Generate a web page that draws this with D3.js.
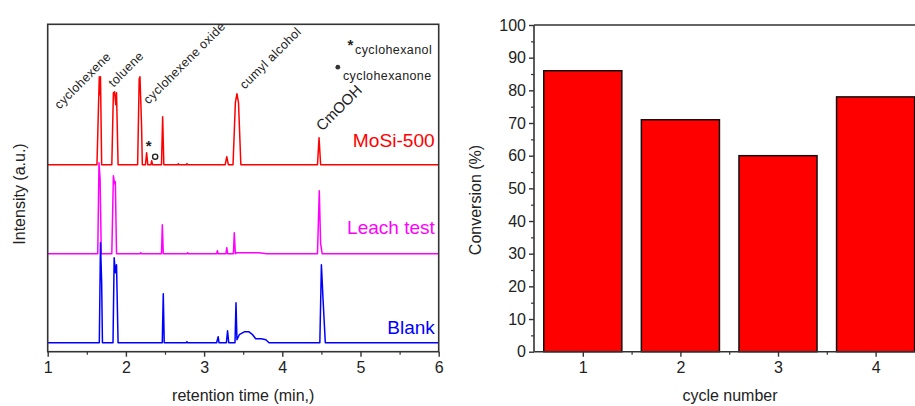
<!DOCTYPE html>
<html><head><meta charset="utf-8">
<script src="https://cdn.jsdelivr.net/npm/d3@7"></script>
<style>
body{margin:0;background:#fff;}
svg{display:block;font-family:"Liberation Sans",Arial,sans-serif;}
</style></head>
<body><svg id="c" width="915" height="406"></svg>
<script>
// ---------- DATA ----------
// Chromatograms: [retention time (min), intensity above own baseline (a.u.)]
const mosi500 = [[1.0,0],[1.3,0],[1.5,0],[1.63,0],[1.65,60],[1.66,88],[1.67,70],[1.675,88],[1.69,0],[1.82,0],[1.84,72],[1.855,73],[1.87,60],[1.88,72],[1.90,0],
  [2.15,0],[2.17,86],[2.18,88],[2.2,40],[2.21,0],[2.25,0],[2.265,12],[2.28,0],[2.32,0],[2.33,4],[2.34,0],[2.455,0],[2.47,48],[2.485,0],
  [2.66,0],[2.67,1],[2.68,0],[2.77,0],[2.78,1],[2.79,0],[3.27,0],[3.29,8],[3.31,0],[3.37,0],[3.40,62],[3.42,71],[3.44,62],[3.47,0],
  [4.45,0],[4.47,27],[4.49,0],[5.6,0],[6.0,0]];
const leachTest = [[1.0,0],[1.3,0],[1.5,0],[1.64,0],[1.656,91],[1.67,75],[1.685,0],[1.82,0],[1.84,78],[1.855,70],[1.865,72],[1.88,0],
  [2.18,0],[2.19,1],[2.2,0],[2.455,0],[2.466,29],[2.478,0],[2.78,0],[2.79,1],[2.8,0],[3.16,0],[3.17,3],[3.18,0],[3.28,0],[3.29,6],[3.30,0],
  [3.375,0],[3.386,21],[3.40,0],[3.42,1],[3.7,1],[3.8,0],[4.45,0],[4.473,63],[4.49,10],[4.51,0],[5.6,0],[6.0,0]];
const blank = [[1.0,0],[1.3,0],[1.5,0],[1.66,0],[1.675,100],[1.69,60],[1.70,0],[1.835,0],[1.85,85],[1.865,70],[1.88,78],[1.90,0],
  [2.1,0],[2.465,0],[2.478,49],[2.49,0],[2.77,0],[2.78,1],[2.79,0],[3.16,0],[3.18,6],[3.19,0],[3.285,0],[3.30,12],[3.315,0],
  [3.395,0],[3.408,40],[3.42,3],[3.45,8],[3.52,11],[3.57,11],[3.62,8],[3.66,4],[3.73,4],[3.79,3],[3.83,0],
  [4.48,0],[4.50,78],[4.52,45],[4.55,0],[5.6,0],[6.0,0]];
const seriesNames = ["MoSi-500","Leach test","Blank"];
const seriesOffsets = [187, 98, 9];          // stacking offsets (a.u.)
const xTicksLeft = [1,2,3,4,5,6];

// Peak annotations: [label, time, level (a.u.)]
const peakLabels = [["cyclohexene",1.15,242],["toluene",1.84,264],["cyclohexene oxide",2.29,247],["cumyl alcohol",3.52,262],["CmOOH",4.51,220]];

// Conversion per cycle
const cycles = [1,2,3,4];
const conversion = [86,71,60,78];
const yTicksRight = [0,10,20,30,40,50,60,70,80,90,100];

// ---------- DRAW ----------
const svg = d3.select("#c");
const axisCol = "#333";

// ===== Left panel =====
const L = {x0:47.7, x1:438.7, y0:24.3, y1:351.7};
const xL = d3.scaleLinear().domain([1,6]).range([L.x0,L.x1]);
const yL = d3.scaleLinear().domain([0,327.4]).range([L.y1,L.y0]);
const gL = svg.append("g");

const colors = ["#ff0000","#ff00ff","#0000ff"];
[mosi500,leachTest,blank].forEach((s,i)=>{
  const line = d3.line().x(d=>xL(d[0])).y(d=>yL(d[1]+seriesOffsets[i]));
  gL.append("path").datum(s).attr("d",line).attr("fill","none")
    .attr("stroke",colors[i]).attr("stroke-width",1.5).attr("stroke-linejoin","round");
});

// frame
gL.append("rect").attr("x",L.x0).attr("y",L.y0).attr("width",L.x1-L.x0).attr("height",L.y1-L.y0)
  .attr("fill","none").attr("stroke",axisCol).attr("stroke-width",1.6);
// bottom axis
const axB = gL.append("g").attr("transform",`translate(0,${L.y1})`)
  .call(d3.axisBottom(xL).tickValues(xTicksLeft).tickSize(5).tickPadding(5).tickFormat(d3.format("d")));
axB.select(".domain").remove();
axB.selectAll("line").attr("stroke",axisCol).attr("stroke-width",1.4);
axB.selectAll("text").attr("font-size",16).attr("fill","#222").attr("font-family","Liberation Sans, Arial");
gL.append("g").attr("transform",`translate(0,${L.y1})`)
  .call(d3.axisBottom(xL).tickValues(d3.range(1.5,6,1)).tickSize(3).tickFormat(""))
  .call(g=>{g.select(".domain").remove();g.selectAll("line").attr("stroke",axisCol).attr("stroke-width",1.2);});

gL.append("text").attr("x",(L.x0+L.x1)/2).attr("y",401).attr("text-anchor","middle")
  .attr("font-size",16).attr("fill","#222").text("retention time (min,)");
gL.append("text").attr("transform",`translate(25,${(L.y0+L.y1)/2+6}) rotate(-90)`).attr("text-anchor","middle")
  .attr("font-size",16).attr("fill","#222").text("Intensity (a.u.)");

// series names
gL.append("text").attr("x",xL(5.95)).attr("y",yL(seriesOffsets[0]+18)).attr("text-anchor","end")
  .attr("font-size",19).attr("fill",colors[0]).attr("textLength",82).attr("lengthAdjust","spacingAndGlyphs").text(seriesNames[0]);
gL.append("text").attr("x",xL(5.95)).attr("y",yL(seriesOffsets[1]+20)).attr("text-anchor","end")
  .attr("font-size",19).attr("fill",colors[1]).text(seriesNames[1]);
gL.append("text").attr("x",xL(5.95)).attr("y",yL(seriesOffsets[2]+9)).attr("text-anchor","end")
  .attr("font-size",19).attr("fill",colors[2]).text(seriesNames[2]);

// peak labels
peakLabels.forEach(p=>{
  gL.append("text").attr("transform",`translate(${xL(p[1])},${yL(p[2])}) rotate(-45)`)
    .attr("font-size",p[0]==="CmOOH"?15:12.5).attr("letter-spacing",p[0]==="CmOOH"?0:0.4)
    .attr("fill","#222").text(p[0]);
});
// markers on small peaks
gL.append("text").attr("x",xL(2.29)).attr("y",yL(201)).attr("text-anchor","middle").attr("font-size",15).attr("font-weight","bold").attr("fill","#222").text("*");
gL.append("circle").attr("cx",xL(2.374)).attr("cy",yL(195)).attr("r",2.6).attr("fill","none").attr("stroke","#222").attr("stroke-width",1.4);
// legend of markers
gL.append("text").attr("x",xL(4.87)).attr("y",yL(302)).attr("text-anchor","middle").attr("font-size",15).attr("font-weight","bold").attr("fill","#222").text("*");
gL.append("text").attr("x",xL(4.93)).attr("y",yL(298)).attr("font-size",12.5).attr("letter-spacing",0.4).attr("fill","#222").text("cyclohexanol");
gL.append("circle").attr("cx",xL(4.71)).attr("cy",yL(284.5)).attr("r",2.4).attr("fill","#333");
gL.append("text").attr("x",xL(4.776)).attr("y",yL(272)).attr("font-size",12.5).attr("letter-spacing",0.4).attr("fill","#222").text("cyclohexanone");

// ===== Right panel =====
const R = {x0:534, y0:25, y1:351.7, step:97.6};
const xR = d3.scaleLinear().domain([0.5,5.5]).range([R.x0,R.x0+5*R.step]);
const yR = d3.scaleLinear().domain([0,100]).range([R.y1,R.y0]);
const gR = svg.append("g");
const bw = 0.8;
gR.selectAll("rect.bar").data(cycles).join("rect").attr("class","bar")
  .attr("x",d=>xR(d-bw/2)).attr("width",d=>xR(d+bw/2)-xR(d-bw/2))
  .attr("y",(d,i)=>yR(conversion[i])).attr("height",(d,i)=>yR(0)-yR(conversion[i]))
  .attr("fill","#ff0000").attr("stroke","#111").attr("stroke-width",1.5);

// frame lines
gR.append("line").attr("x1",R.x0).attr("x2",940).attr("y1",R.y0).attr("y2",R.y0).attr("stroke",axisCol).attr("stroke-width",1.6);
gR.append("line").attr("x1",R.x0).attr("x2",940).attr("y1",R.y1).attr("y2",R.y1).attr("stroke",axisCol).attr("stroke-width",1.6);
gR.append("line").attr("x1",R.x0).attr("x2",R.x0).attr("y1",R.y0).attr("y2",R.y1).attr("stroke",axisCol).attr("stroke-width",1.6);

const ayR = gR.append("g").attr("transform",`translate(${R.x0},0)`)
  .call(d3.axisLeft(yR).tickValues(yTicksRight).tickSize(5).tickPadding(3));
ayR.select(".domain").remove();
ayR.selectAll("line").attr("stroke",axisCol).attr("stroke-width",1.4);
ayR.selectAll("text").attr("font-size",16).attr("fill","#222").attr("font-family","Liberation Sans, Arial");
gR.append("g").attr("transform",`translate(${R.x0},0)`)
  .call(d3.axisLeft(yR).tickValues(d3.range(5,100,10)).tickSize(3).tickFormat(""))
  .call(g=>{g.select(".domain").remove();g.selectAll("line").attr("stroke",axisCol).attr("stroke-width",1.2);});

const axR = gR.append("g").attr("transform",`translate(0,${R.y1})`)
  .call(d3.axisBottom(xR).tickValues(cycles).tickSize(5).tickPadding(5).tickFormat(d3.format("d")));
axR.select(".domain").remove();
axR.selectAll("line").attr("stroke",axisCol).attr("stroke-width",1.4);
axR.selectAll("text").attr("font-size",16).attr("fill","#222").attr("font-family","Liberation Sans, Arial");
gR.append("g").attr("transform",`translate(0,${R.y1})`)
  .call(d3.axisBottom(xR).tickValues([1.5,2.5,3.5,4.5]).tickSize(3).tickFormat(""))
  .call(g=>{g.select(".domain").remove();g.selectAll("line").attr("stroke",axisCol).attr("stroke-width",1.2);});

gR.append("text").attr("x",730).attr("y",401).attr("text-anchor","middle").attr("font-size",16).attr("fill","#222").text("cycle number");
gR.append("text").attr("transform",`translate(481,200) rotate(-90)`).attr("text-anchor","middle")
  .attr("font-size",16).attr("fill","#222").text("Conversion (%)");
</script></body></html>
